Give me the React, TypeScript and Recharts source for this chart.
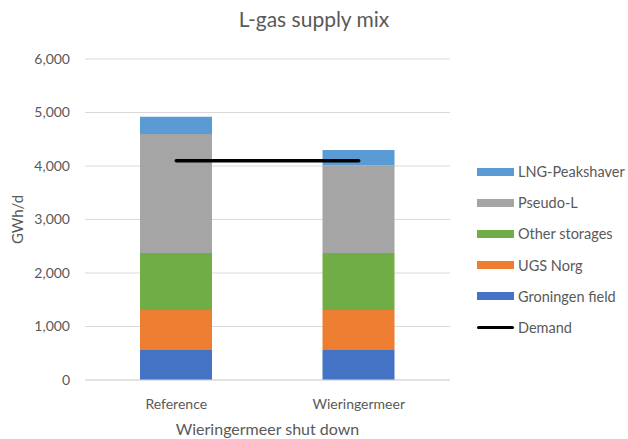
import React from "react";
import { ComposedChart, Bar, Line, XAxis, YAxis, CartesianGrid, Label } from "recharts";

const categories = ["Reference", "Wieringermeer"];
const groningenField = [560, 560];
const ugsNorg = [750, 750];
const otherStorages = [1065, 1065];
const pseudoL = [2225, 1635];
const lngPeakshaver = [320, 290];
const demand = [4100, 4100];
const yTicks = [0, 1000, 2000, 3000, 4000, 5000, 6000];

const data = categories.map((c, i) => ({
  name: c,
  groningen: groningenField[i],
  ugs: ugsNorg[i],
  other: otherStorages[i],
  pseudo: pseudoL[i],
  lng: lngPeakshaver[i],
  demand: demand[i],
}));

const FONT = "Lato, 'Open Sans', sans-serif";
const GRAY = "#595959";

const legendItems = [
  { label: "LNG-Peakshaver", color: "#5B9BD5", type: "rect" },
  { label: "Pseudo-L", color: "#A5A5A5", type: "rect" },
  { label: "Other storages", color: "#70AD47", type: "rect" },
  { label: "UGS Norg", color: "#ED7D31", type: "rect" },
  { label: "Groningen field", color: "#4472C4", type: "rect" },
  { label: "Demand", color: "#000000", type: "line" },
];

const LegendContent = () => (
  <div style={{ fontFamily: FONT, fontSize: 14.5, color: GRAY }}>
    {legendItems.map((it) => (
      <div key={it.label} style={{ display: "flex", alignItems: "center", height: 31.2 }}>
        <div
          style={{
            width: 37,
            height: it.type === "rect" ? 8 : 3.5,
            background: it.color,
            marginRight: 4,
            borderRadius: it.type === "line" ? 2 : 0,
          }}
        />
        <span>{it.label}</span>
      </div>
    ))}
  </div>
);

export default function App() {
  return (
    <div style={{ position: "absolute", left: 0, top: 0, width: 628, height: 439, background: "#fff" }}>
      <div
        style={{
          position: "absolute",
          top: 6,
          left: 0,
          width: 628,
          textAlign: "center",
          fontFamily: FONT,
          fontSize: 21,
          color: GRAY,
        }}
      >
        L-gas supply mix
      </div>
      <ComposedChart
        width={628}
        height={439}
        data={data}
        margin={{ top: 59, right: 178, left: 0, bottom: 0 }}
        barSize={72}
      >
        <CartesianGrid vertical={false} stroke="#d9d9d9" />
        <XAxis
          dataKey="name"
          height={59}
          tickLine={false}
          axisLine={{ stroke: "#d9d9d9" }}
          tick={{ fill: GRAY, fontSize: 14, fontFamily: FONT }}
          tickMargin={13}
        >
          <Label
            value="Wieringermeer shut down"
            position="insideBottom"
            offset={4}
            style={{ fill: GRAY, fontSize: 16, fontFamily: FONT }}
          />
        </XAxis>
        <YAxis
          width={85}
          domain={[0, 6000]}
          ticks={yTicks}
          interval={0}
          tickLine={false}
          axisLine={false}
          tickSize={0}
          tickMargin={15}
          tickFormatter={(v: number) => v.toLocaleString("en-US")}
          tick={{ fill: GRAY, fontSize: 14, fontFamily: FONT }}
        >
          <Label
            value="GWh/d"
            angle={-90}
            position="insideLeft"
            offset={18}
            style={{ fill: GRAY, fontSize: 15, fontFamily: FONT, textAnchor: "middle" }}
          />
        </YAxis>
        <Bar dataKey="groningen" stackId="a" fill="#4472C4" isAnimationActive={false} />
        <Bar dataKey="ugs" stackId="a" fill="#ED7D31" isAnimationActive={false} />
        <Bar dataKey="other" stackId="a" fill="#70AD47" isAnimationActive={false} />
        <Bar dataKey="pseudo" stackId="a" fill="#A5A5A5" isAnimationActive={false} />
        <Bar dataKey="lng" stackId="a" fill="#5B9BD5" isAnimationActive={false} />
        <Line
          dataKey="demand"
          stroke="#000"
          strokeWidth={3.5}
          dot={false}
          isAnimationActive={false}
          strokeLinecap="round"
        />
      </ComposedChart>
      <div style={{ position: "absolute", left: 477, top: 156, width: 150 }}>
        <LegendContent />
      </div>
    </div>
  );
}
